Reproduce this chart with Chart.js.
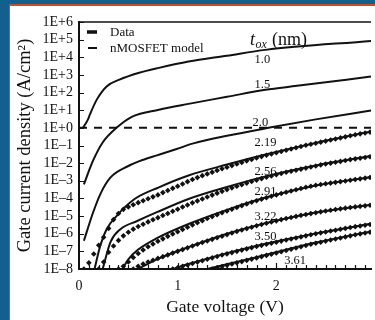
<!DOCTYPE html>
<html>
<head>
<meta charset="utf-8">
<title>Gate current density vs gate voltage</title>
<script src="https://cdn.jsdelivr.net/npm/chart.js@4.4.1/dist/chart.umd.min.js"></script>
<style>
  html, body { margin: 0; padding: 0; background: #fff; }
  #wrap { position: relative; width: 375px; height: 320px; overflow: hidden; background: #fff; }
  .band-top { position: absolute; left: 0; top: 0; width: 375px; height: 4px; background: #13608f; }
  .band-left { position: absolute; left: 0; top: 0; width: 9px; height: 320px; background: #13608f; }
  .rule-top { position: absolute; left: 9px; top: 4px; width: 366px; height: 2px; background: #c44d2c; }
  .rule-left { position: absolute; left: 9px; top: 4px; width: 1px; height: 316px; background: #c44d2c; }
  canvas { position: absolute; left: 0; top: 0; }
</style>
</head>
<body>
<div id="wrap">
  <div class="band-top"></div>
  <div class="band-left"></div>
  <div class="rule-top"></div>
  <div class="rule-left"></div>
  <canvas id="chart" width="375" height="320"></canvas>
</div>
<script>
// Axis ticks
const X_TICKS = [0, 1, 2];
const X_TICK_LABELS = ['0', '1', '2'];
const Y_DECADES = [-8, -7, -6, -5, -4, -3, -2, -1, 0, 1, 2, 3, 4, 5, 6];
const Y_TICK_LABELS = ['1E\u20138', '1E\u20137', '1E\u20136', '1E\u20135', '1E\u20134', '1E\u20133', '1E\u20132',
                       '1E\u20131', '1E+0', '1E+1', '1E+2', '1E+3', '1E+4', '1E+5', '1E+6'];

// Oxide thicknesses (nm), one model curve each
const TOX = ['1.0', '1.5', '2.0', '2.19', '2.56', '2.91', '3.22', '3.50', '3.61'];

// Model curves: gate voltage (V) and log10 of J (A/cm2)
const M10_V   = [0.04, 0.09, 0.11, 0.18, 0.28, 0.41, 0.61, 0.81, 1.11, 1.50, 1.89, 2.96];
const M10_LOG = [0.00, 0.47, 0.75, 1.60, 2.35, 2.73, 3.12, 3.40, 3.76, 4.09, 4.42, 4.93];
const M15_V   = [0.05, 0.14, 0.24, 0.38, 0.54, 0.81, 1.11, 1.50, 1.89, 2.21, 2.96];
const M15_LOG = [-3.20, -1.89, -0.83, 0.00, 0.64, 1.03, 1.36, 1.76, 2.16, 2.38, 2.91];
const M20_V   = [0.05, 0.14, 0.22, 0.32, 0.49, 0.66, 0.79, 0.99, 1.16, 1.50, 1.92, 2.40, 2.96];
const M20_LOG = [-6.40, -4.84, -3.71, -2.81, -2.19, -1.79, -1.56, -1.20, -0.88, -0.45, 0.00, 0.48, 0.98];
const M219_V   = [0.16, 0.21, 0.28, 0.38, 0.56, 0.81, 1.11, 1.50, 1.89, 2.40, 2.96];
const M219_LOG = [-7.95, -6.80, -5.75, -5.00, -4.05, -3.37, -2.70, -2.08, -1.51, -0.85, -0.21];
const M256_V   = [0.24, 0.32, 0.42, 0.59, 0.79, 1.11, 1.50, 1.89, 2.40, 2.96];
const M256_LOG = [-8.00, -6.46, -5.74, -5.28, -4.78, -4.03, -3.35, -2.75, -2.13, -1.60];
const M291_V   = [0.44, 0.50, 0.60, 0.79, 1.11, 1.50, 1.89, 2.40, 2.96];
const M291_LOG = [-8.00, -7.45, -6.90, -6.25, -5.45, -4.65, -3.95, -3.27, -2.78];
const M322_V   = [0.60, 0.79, 1.13, 1.50, 1.89, 2.40, 2.96];
const M322_LOG = [-8.00, -7.45, -6.72, -6.00, -5.40, -4.80, -4.36];
const M350_V   = [0.95, 1.11, 1.50, 1.89, 2.40, 2.96];
const M350_LOG = [-8.00, -7.72, -7.10, -6.57, -5.98, -5.44];
const M361_V   = [1.30, 1.80, 2.40, 2.96];
const M361_LOG = [-8.00, -7.33, -6.50, -5.88];

// Measured points share one voltage grid; each series runs to the last voltage
const DOT_V = [
  0.05, 0.10, 0.15, 0.20, 0.25, 0.30, 0.35, 0.40, 0.45, 0.50,
  0.55, 0.60, 0.65, 0.70, 0.75, 0.80, 0.85, 0.90, 0.95, 1.00,
  1.05, 1.10, 1.15, 1.20, 1.25, 1.30, 1.35, 1.40, 1.45, 1.50,
  1.55, 1.60, 1.65, 1.70, 1.75, 1.80, 1.85, 1.90, 1.95, 2.00,
  2.05, 2.10, 2.15, 2.20, 2.25, 2.30, 2.35, 2.40, 2.45, 2.50,
  2.55, 2.60, 2.65, 2.70, 2.75, 2.80, 2.85, 2.90, 2.95
];
// from 0.05 V
const D219_LOG = [
  -8.00, -7.65, -7.15, -6.65, -6.20, -5.70, -5.20, -4.85, -4.62, -4.48,
  -4.36, -4.24, -4.13, -4.02, -3.91, -3.80, -3.67, -3.55, -3.43, -3.31,
  -3.18, -3.05, -2.93, -2.82, -2.71, -2.61, -2.51, -2.41, -2.32, -2.23,
  -2.14, -2.05, -1.96, -1.87, -1.79, -1.71, -1.63, -1.55, -1.48, -1.41,
  -1.34, -1.27, -1.20, -1.13, -1.06, -0.99, -0.93, -0.87, -0.81, -0.75,
  -0.69, -0.63, -0.57, -0.51, -0.45, -0.39, -0.34, -0.29, -0.24
];
// from 0.20 V
const D256_LOG = [
  -8.00, -7.60, -7.05, -6.70, -6.38, -6.12, -5.92, -5.74, -5.59, -5.46,
  -5.33, -5.21, -5.09, -4.97, -4.85, -4.73, -4.61, -4.49, -4.37, -4.25,
  -4.14, -4.03, -3.92, -3.81, -3.70, -3.60, -3.50, -3.40, -3.31, -3.22,
  -3.13, -3.04, -2.96, -2.88, -2.80, -2.73, -2.66, -2.59, -2.52, -2.46,
  -2.40, -2.34, -2.28, -2.22, -2.16, -2.10, -2.05, -2.00, -1.95, -1.90,
  -1.85, -1.80, -1.76, -1.72, -1.68, -1.64
];
// from 0.40 V
const D291_LOG = [
  -8.00, -7.85, -7.60, -7.35, -7.12, -6.92, -6.74, -6.58, -6.43, -6.29,
  -6.15, -6.02, -5.89, -5.76, -5.63, -5.50, -5.38, -5.26, -5.14, -5.03,
  -4.92, -4.81, -4.71, -4.61, -4.51, -4.41, -4.31, -4.22, -4.13, -4.04,
  -3.96, -3.88, -3.80, -3.72, -3.65, -3.58, -3.51, -3.44, -3.37, -3.31,
  -3.25, -3.21, -3.17, -3.13, -3.09, -3.05, -3.01, -2.97, -2.93, -2.89,
  -2.85, -2.81
];
// from 0.55 V
const D322_LOG = [
  -8.00, -7.85, -7.72, -7.60, -7.50, -7.40, -7.30, -7.20, -7.10, -7.00,
  -6.90, -6.80, -6.70, -6.60, -6.50, -6.41, -6.32, -6.23, -6.14, -6.05,
  -5.96, -5.87, -5.79, -5.71, -5.63, -5.55, -5.48, -5.41, -5.34, -5.27,
  -5.20, -5.14, -5.08, -5.02, -4.96, -4.91, -4.86, -4.81, -4.76, -4.71,
  -4.67, -4.63, -4.59, -4.55, -4.51, -4.48, -4.45, -4.42, -4.39
];
// from 0.95 V
const D350_LOG = [
  -8.00, -7.93, -7.85, -7.77, -7.69, -7.61, -7.53, -7.45, -7.37, -7.29,
  -7.21, -7.14, -7.07, -7.00, -6.93, -6.86, -6.79, -6.72, -6.66, -6.60,
  -6.54, -6.48, -6.42, -6.36, -6.30, -6.24, -6.18, -6.12, -6.06, -6.00,
  -5.95, -5.90, -5.85, -5.80, -5.75, -5.70, -5.65, -5.60, -5.56, -5.52,
  -5.48
];
// from 1.35 V
const D361_LOG = [
  -8.00, -7.93, -7.86, -7.79, -7.72, -7.65, -7.58, -7.51, -7.44, -7.37,
  -7.30, -7.23, -7.16, -7.09, -7.02, -6.95, -6.88, -6.81, -6.74, -6.67,
  -6.60, -6.54, -6.48, -6.42, -6.36, -6.30, -6.24, -6.18, -6.12, -6.06,
  -6.01, -5.96, -5.91
];

// 1 A/cm2 reference level
const REF_V = [0, 2.96];
const REF_J = [1, 1];

const INK = '#111';
const SERIF = "'Liberation Serif', 'DejaVu Serif', serif";

function toPoints(vs, logs) {
  return vs.map((v, i) => ({ x: v, y: Math.pow(10, logs[i]) }));
}

function modelSet(vs, logs) {
  return {
    data: toPoints(vs, logs),
    showLine: true,
    borderColor: INK,
    borderWidth: 2,
    pointRadius: 0,
    cubicInterpolationMode: 'monotone'
  };
}

function dotSet(logs) {
  return {
    data: toPoints(DOT_V.slice(DOT_V.length - logs.length), logs),
    showLine: false,
    pointStyle: 'rectRot',
    pointRadius: 2.8,
    backgroundColor: INK,
    borderColor: INK,
    borderWidth: 0
  };
}

const datasets = [
  modelSet(M10_V, M10_LOG),
  modelSet(M15_V, M15_LOG),
  modelSet(M20_V, M20_LOG),
  modelSet(M219_V, M219_LOG),
  modelSet(M256_V, M256_LOG),
  modelSet(M291_V, M291_LOG),
  modelSet(M322_V, M322_LOG),
  modelSet(M350_V, M350_LOG),
  modelSet(M361_V, M361_LOG),
  dotSet(D219_LOG),
  dotSet(D256_LOG),
  dotSet(D291_LOG),
  dotSet(D322_LOG),
  dotSet(D350_LOG),
  dotSet(D361_LOG),
  {
    data: REF_V.map((v, i) => ({ x: v, y: REF_J[i] })),
    showLine: true,
    borderColor: INK,
    borderWidth: 2,
    borderDash: [8, 7],
    pointRadius: 0
  }
];

// Where each tox label sits, in (V, log10 J)
const LABEL_AT = [
  [1.78, 3.86], [1.78, 2.44], [1.76, 0.30], [1.78, -0.83], [1.78, -2.47],
  [1.78, -3.60], [1.78, -5.06], [1.78, -6.19], [2.08, -7.52]
];

// Frame top line, inward tick marks, legend and curve labels
const plotFrame = {
  id: 'plotFrame',
  afterDraw(chart) {
    const { ctx, chartArea: a, scales } = chart;
    const xs = scales.x, ys = scales.y;
    ctx.save();
    ctx.strokeStyle = INK;
    ctx.fillStyle = INK;

    ctx.lineWidth = 1.5;
    ctx.beginPath();
    ctx.moveTo(a.left, a.top);
    ctx.lineTo(a.right, a.top);
    ctx.stroke();

    ctx.lineWidth = 1.2;
    ctx.beginPath();
    Y_DECADES.forEach(e => {
      const y = Math.round(ys.getPixelForValue(Math.pow(10, e))) + 0.5;
      ctx.moveTo(a.left, y);
      ctx.lineTo(a.left + 5, y);
    });
    for (let i = 1; i < 30; i++) {
      const x = Math.round(xs.getPixelForValue(i / 10)) + 0.5;
      ctx.moveTo(x, a.bottom);
      ctx.lineTo(x, a.bottom - (i % 10 === 0 ? 6 : 4));
    }
    ctx.stroke();

    // legend
    ctx.lineWidth = 3.5;
    ctx.beginPath();
    ctx.moveTo(a.left + 8, a.top + 10);
    ctx.lineTo(a.left + 18, a.top + 10);
    ctx.stroke();
    ctx.lineWidth = 2;
    ctx.beginPath();
    ctx.moveTo(a.left + 9, a.top + 26);
    ctx.lineTo(a.left + 18, a.top + 26);
    ctx.stroke();
    ctx.font = '13px ' + SERIF;
    ctx.textBaseline = 'middle';
    ctx.textAlign = 'left';
    ctx.fillText('Data', a.left + 31, a.top + 11);
    ctx.fillText('nMOSFET model', a.left + 31, a.top + 27);

    // heading of the tox labels
    ctx.textBaseline = 'alphabetic';
    ctx.font = 'italic 18px ' + SERIF;
    ctx.fillText('t', a.left + 171, a.top + 23);
    ctx.font = 'italic 12px ' + SERIF;
    ctx.fillText('ox', a.left + 176.5, a.top + 26);
    ctx.font = '18px ' + SERIF;
    ctx.fillText('(nm)', a.left + 193, a.top + 23);

    ctx.font = '12.5px ' + SERIF;
    ctx.textBaseline = 'middle';
    TOX.forEach((t, i) => {
      const [v, lg] = LABEL_AT[i];
      ctx.fillText(t, xs.getPixelForValue(v), ys.getPixelForValue(Math.pow(10, lg)));
    });
    ctx.restore();
  }
};

Chart.defaults.font.family = SERIF;
Chart.defaults.color = INK;

new Chart(document.getElementById('chart'), {
  type: 'scatter',
  data: { datasets: datasets },
  options: {
    responsive: false,
    animation: false,
    devicePixelRatio: 1,
    layout: { padding: { top: 22, right: 0, bottom: 0, left: 0 } },
    plugins: {
      legend: { display: false },
      tooltip: { enabled: false }
    },
    scales: {
      x: {
        type: 'linear',
        min: 0,
        max: 2.96,
        grid: { display: false, drawTicks: false },
        border: { display: true, color: INK, width: 2 },
        afterBuildTicks: s => { s.ticks = X_TICKS.map(v => ({ value: v })); },
        afterFit: s => { s.height = 51; },
        ticks: {
          autoSkip: false,
          maxRotation: 0,
          padding: 9,
          color: INK,
          font: { size: 14 },
          callback: (v, i) => X_TICK_LABELS[i]
        },
        title: {
          display: true,
          text: 'Gate voltage (V)',
          color: INK,
          font: { size: 17.5 },
          padding: { top: 0, bottom: 2 }
        }
      },
      y: {
        type: 'logarithmic',
        min: 1e-8,
        max: 1e6,
        grid: { display: false, drawTicks: false },
        border: { display: true, color: INK, width: 2 },
        afterBuildTicks: s => { s.ticks = Y_DECADES.map(e => ({ value: Math.pow(10, e) })); },
        afterFit: s => { s.width = 79; },
        ticks: {
          autoSkip: false,
          padding: 6,
          color: INK,
          font: { size: 14 },
          callback: (v, i) => Y_TICK_LABELS[i]
        },
        title: {
          display: true,
          text: 'Gate current density (A/cm\u00b2)',
          color: INK,
          font: { size: 18.5 },
          padding: { top: 14, bottom: 0 }
        }
      }
    }
  },
  plugins: [plotFrame]
});
</script>
</body>
</html>
